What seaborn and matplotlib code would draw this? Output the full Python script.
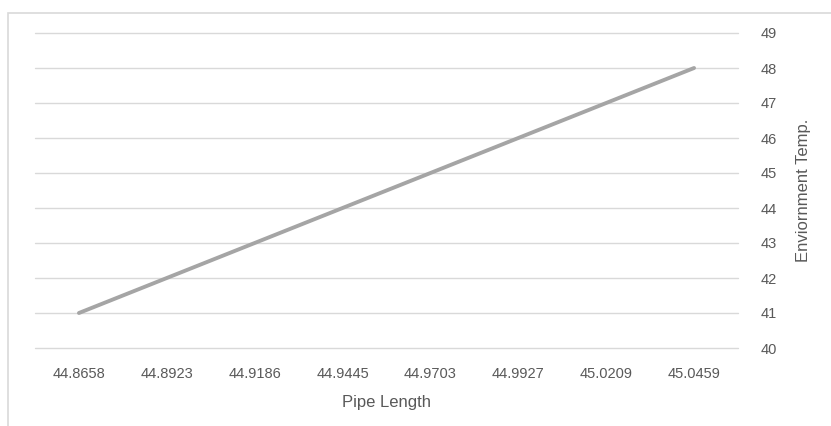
import matplotlib
matplotlib.use("Agg")
import matplotlib.pyplot as plt
import seaborn as sns
import pandas as pd
from matplotlib.patches import Rectangle

pipe_length = ["44.8658", "44.8923", "44.9186", "44.9445", "44.9703", "44.9927", "45.0209", "45.0459"]
env_temp = [41, 42, 43, 44, 45, 46, 47, 48]
y_ticks = [40, 41, 42, 43, 44, 45, 46, 47, 48, 49]

sns.set_theme(style="white")
plt.rcParams['font.family'] = ['Liberation Sans', 'DejaVu Sans']

df = pd.DataFrame({"Pipe Length": pipe_length, "Temp": env_temp})

fig = plt.figure(figsize=(8.31, 4.26), dpi=100)
ax = fig.add_axes([35/831, 1-348/426, (738-35)/831, (348-33)/426])

sns.lineplot(data=df, x="Pipe Length", y="Temp", sort=False, ax=ax,
             color="#a5a5a5", linewidth=2.8, solid_capstyle="round")

ax.set_xlim(-0.5, len(pipe_length) - 0.5)
ax.set_ylim(40, 49)
ax.set_yticks(y_ticks)
ax.yaxis.tick_right()
ax.yaxis.set_label_position("right")
ax.grid(axis="y", color="#d9d9d9", linewidth=1)
for gl in ax.get_ygridlines():
    gl.set_clip_on(False)
ax.set_axisbelow(True)
for s in ax.spines.values():
    s.set_visible(False)
ax.tick_params(axis="both", length=0, labelsize=10.5, colors="#595959")
ax.tick_params(axis="y", pad=16)
ax.tick_params(axis="x", pad=14)
ax.set_xlabel("Pipe Length", fontsize=12, color="#595959", labelpad=10)
ax.set_ylabel("Enviornment Temp.", fontsize=12, color="#595959", labelpad=14)

fig.patches.append(Rectangle((8/831, -0.1), 1.0, 1 - 13/426 + 0.1, transform=fig.transFigure,
                             fill=False, edgecolor="#d9d9d9", linewidth=1.2, zorder=0))

fig.savefig("out.png", dpi=100, facecolor="white")
